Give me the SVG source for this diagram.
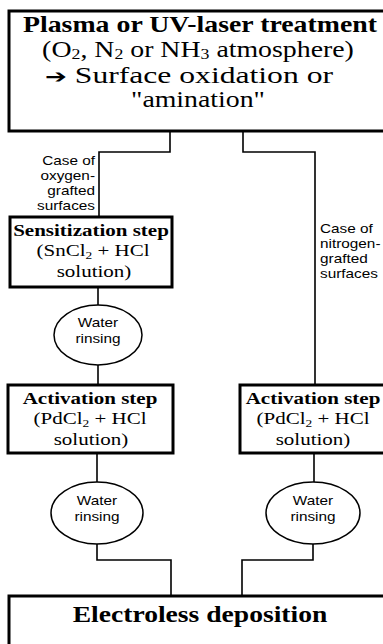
<svg xmlns="http://www.w3.org/2000/svg" width="383" height="644" viewBox="0 0 383 644">
<style>
.box{fill:#fff;stroke:#000;stroke-width:3}
.ell{fill:#fff;stroke:#000;stroke-width:1.5}
.con{fill:none;stroke:#000;stroke-width:1.6}
.tb{font-family:"Liberation Serif","Times New Roman",serif;font-weight:bold;fill:#000}
.tr{font-family:"Liberation Serif","Times New Roman",serif;fill:#000}
.sa{font-family:"Liberation Sans",Arial,sans-serif;font-size:13px;fill:#000}
.big{font-size:23px}
.mid{font-size:17.5px}
.sub{font-size:0.64em}
</style>
<rect width="383" height="644" fill="#fff"/>
<g id="connectors">
<path class="con" d="M170,131 V152 H99 V217"/>
<path class="con" d="M243,131 V152 H315 V385"/>
<path class="con" d="M98,287 V305"/>
<path class="con" d="M98,365 V385"/>
<path class="con" d="M97,453 V482"/>
<path class="con" d="M314,453 V482"/>
<path class="con" d="M97,544 V560 H171 V596"/>
<path class="con" d="M313,544 V560 H242 V596"/>
</g>
<g id="label-oxygen" class="sa" text-anchor="end">
<text transform="translate(95,165) scale(1.18,1)">Case of</text>
<text transform="translate(95,180) scale(1.18,1)">oxygen-</text>
<text transform="translate(95,195) scale(1.18,1)">grafted</text>
<text transform="translate(95,210) scale(1.18,1)">surfaces</text>
</g>
<g id="label-nitrogen" class="sa">
<text transform="translate(320,233) scale(1.18,1)">Case of</text>
<text transform="translate(320,248) scale(1.18,1)">nitrogen-</text>
<text transform="translate(320,263) scale(1.18,1)">grafted</text>
<text transform="translate(320,278) scale(1.18,1)">surfaces</text>
</g>
<g id="plasma">
<rect class="box" x="9" y="11" width="384" height="120"/>
<g text-anchor="middle">
<text class="tb big" transform="translate(200,32) scale(1.21,1)">Plasma or UV-laser treatment</text>
<text class="tr big" transform="translate(198,57) scale(1.21,1)">(O<tspan class="sub" dy="2">2</tspan><tspan dy="-2">, N</tspan><tspan class="sub" dy="2">2</tspan><tspan dy="-2"> or NH</tspan><tspan class="sub" dy="2">3</tspan><tspan dy="-2"> atmosphere)</tspan></text>
<text class="tr big" x="189" y="83" textLength="288" lengthAdjust="spacingAndGlyphs"><tspan font-family="DejaVu Sans" font-weight="bold" font-size="19">➔</tspan> Surface oxidation or</text>
<text class="tr big" transform="translate(198,107) scale(1.21,1)">"amination"</text>
</g>
</g>
<g id="sensitization">
<rect class="box" x="10" y="217" width="162" height="70"/>
<g text-anchor="middle">
<text class="tb mid" transform="translate(91,236) scale(1.2,1)">Sensitization step</text>
<text class="tr mid" transform="translate(93,256) scale(1.2,1)">(SnCl<tspan class="sub" dy="3">2</tspan><tspan dy="-3"> + HCl</tspan></text>
<text class="tr mid" transform="translate(94,277) scale(1.2,1)">solution)</text>
</g>
</g>
<g id="rinse1">
<ellipse class="ell" cx="98" cy="335" rx="44" ry="30"/>
<g class="sa" text-anchor="middle">
<text transform="translate(98,327) scale(1.18,1)">Water</text>
<text transform="translate(98,343) scale(1.18,1)">rinsing</text>
</g>
</g>
<g id="activation-left">
<rect class="box" x="8" y="385" width="165" height="68"/>
<g text-anchor="middle">
<text class="tb mid" transform="translate(90,404) scale(1.2,1)">Activation step</text>
<text class="tr mid" transform="translate(90,424) scale(1.2,1)">(PdCl<tspan class="sub" dy="3">2</tspan><tspan dy="-3"> + HCl</tspan></text>
<text class="tr mid" transform="translate(91,445) scale(1.2,1)">solution)</text>
</g>
</g>
<g id="activation-right">
<rect class="box" x="240" y="385" width="150" height="68"/>
<g text-anchor="middle">
<text class="tb mid" transform="translate(313,404) scale(1.2,1)">Activation step</text>
<text class="tr mid" transform="translate(313,424) scale(1.2,1)">(PdCl<tspan class="sub" dy="3">2</tspan><tspan dy="-3"> + HCl</tspan></text>
<text class="tr mid" transform="translate(313,445) scale(1.2,1)">solution)</text>
</g>
</g>
<g id="rinse2">
<ellipse class="ell" cx="97" cy="513" rx="46" ry="31"/>
<g class="sa" text-anchor="middle">
<text transform="translate(97,505) scale(1.18,1)">Water</text>
<text transform="translate(97,521) scale(1.18,1)">rinsing</text>
</g>
</g>
<g id="rinse3">
<ellipse class="ell" cx="313" cy="513" rx="47" ry="31"/>
<g class="sa" text-anchor="middle">
<text transform="translate(313,505) scale(1.18,1)">Water</text>
<text transform="translate(313,521) scale(1.18,1)">rinsing</text>
</g>
</g>
<g id="electroless">
<rect class="box" x="9" y="596" width="384" height="60"/>
<text class="tb big" text-anchor="middle" transform="translate(200,622) scale(1.2,1)">Electroless deposition</text>
</g>
</svg>
